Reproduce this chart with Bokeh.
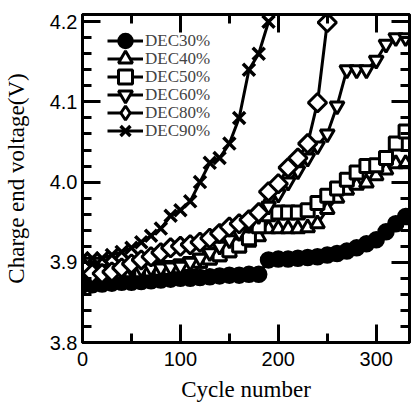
from bokeh.plotting import figure
from bokeh.models import (LinearAxis, Range1d, Legend, LegendItem, FixedTicker,
                          NumeralTickFormatter, CustomJSTickFormatter)
from bokeh.embed import file_html
from bokeh.resources import INLINE

# ---- data ----
cycles = [0, 10, 20, 30, 40, 50, 60, 70, 80, 90, 100, 110, 120, 130, 140, 150, 160,
          170, 180, 190, 200, 210, 220, 230, 240, 250, 260, 270, 280, 290, 300, 310, 320, 330]

dec30 = [3.872, 3.872, 3.873, 3.874, 3.875, 3.875, 3.876, 3.877, 3.878, 3.879, 3.880, 3.880,
         3.881, 3.882, 3.883, 3.884, 3.884, 3.885, 3.885, 3.903, 3.904, 3.904, 3.905, 3.906,
         3.907, 3.909, 3.911, 3.914, 3.918, 3.923, 3.928, 3.938, 3.948, 3.957]
dec40 = [3.885, 3.885, 3.886, 3.886, 3.887, 3.887, 3.888, 3.889, 3.890, 3.891, 3.893, 3.896,
         3.899, 3.903, 3.907, 3.912, 3.918, 3.925, 3.932, 3.942, 3.942, 3.942, 3.942, 3.943,
         3.948, 3.966, 3.980, 3.990, 3.996, 3.999, 4.008, 4.015, 4.023, 4.023]
dec50 = [3.888, 3.888, 3.888, 3.889, 3.889, 3.890, 3.890, 3.891, 3.892, 3.893, 3.895, 3.898,
         3.902, 3.906, 3.910, 3.915, 3.921, 3.930, 3.945, 3.960, 3.962, 3.962, 3.962, 3.965,
         3.974, 3.983, 3.992, 4.003, 4.012, 4.020, 4.021, 4.030, 4.048, 4.063]
dec60 = [3.890, 3.890, 3.890, 3.891, 3.891, 3.892, 3.892, 3.893, 3.893, 3.894, 3.895, 3.900,
         3.905, 3.912, 3.920, 3.928, 3.937, 3.947, 3.958, 3.970, 3.985, 4.000, 4.014, 4.030,
         4.045, 4.060, 4.095, 4.140, 4.140, 4.140, 4.152, 4.172, 4.180, 4.180]
dec80 = [3.893, 3.886, 3.886, 3.888, 3.893, 3.898, 3.903, 3.907, 3.912, 3.918, 3.920, 3.922,
         3.925, 3.930, 3.936, 3.944, 3.948, 3.953, 3.962, 3.988, 3.998, 4.018, 4.030, 4.048,
         4.099, 4.199]
dec90 = [3.905, 3.905, 3.905, 3.909, 3.913, 3.918, 3.925, 3.933, 3.942, 3.958, 3.965, 3.976,
         4.000, 4.024, 4.030, 4.048, 4.080, 4.140, 4.160, 4.200]

series_names = ["DEC30%", "DEC40%", "DEC50%", "DEC60%", "DEC80%", "DEC90%"]
series_values = [dec30, dec40, dec50, dec60, dec80, dec90]

x_major = [0, 100, 200, 300]
x_minor = [50, 150, 250]
y_major = [3.8, 3.9, 4.0, 4.1, 4.2]
y_minor = [3.82, 3.84, 3.86, 3.88, 3.92, 3.94, 3.96, 3.98, 4.02, 4.04, 4.06, 4.08,
           4.12, 4.14, 4.16, 4.18]

# ---- styles ----
# legend_marker: marker used for the legend swatch (legend swatches ignore angle)
marker_styles = [
    dict(marker="circle", size=15, fill_color="black", angle=0, lw=2.5, legend_marker=None),
    dict(marker="triangle", size=14, fill_color="white", angle=0, lw=3, legend_marker=None),
    dict(marker="square", size=13, fill_color="white", angle=0, lw=3, legend_marker=None),
    dict(marker="inverted_triangle", size=14, fill_color="white", angle=0, lw=3, legend_marker=None),
    dict(marker="square", size=13, fill_color="white", angle=0.7853981634, lw=3, legend_marker="diamond"),
    dict(marker="x", size=17, fill_color="white", angle=0, lw=3.5, legend_marker=None),
]

SERIF = "Liberation Serif"
SANS = "Liberation Sans"

p = figure(width=412, height=406, output_backend="svg", toolbar_location=None,
           x_range=Range1d(0, 334), y_range=Range1d(3.8, 4.209),
           min_border_left=82, min_border_right=3, min_border_top=14, min_border_bottom=64)
p.xgrid.visible = False
p.ygrid.visible = False
p.outline_line_color = "black"
p.outline_line_width = 3
p.background_fill_color = "white"
p.border_fill_color = "white"

bottom = p.below[0]
left = p.left[0]

renderer_pairs = []
for name, vals, st in zip(series_names, series_values, marker_styles):
    xs = cycles[:len(vals)]
    lr = p.line(xs, vals, line_color="black", line_width=3)
    legend_r = None
    if st["legend_marker"]:
        # smaller swatch-shaped marker, fully covered by the plotted marker
        legend_r = p.scatter(xs, vals, marker=st["legend_marker"], size=14,
                             fill_color=st["fill_color"], line_color="black", line_width=3)
    sr = p.scatter(xs, vals, marker=st["marker"], size=st["size"], angle=st["angle"],
                   fill_color=st["fill_color"], line_color="black", line_width=st["lw"])
    renderer_pairs.append((name, lr, legend_r if legend_r is not None else sr))

# mirrored axes (ticks only)
top = LinearAxis()
right = LinearAxis()
p.add_layout(top, "above")
p.add_layout(right, "right")

for ax in [bottom, top]:
    ax.ticker = FixedTicker(ticks=x_major, minor_ticks=x_minor)
for ax in [left, right]:
    ax.ticker = FixedTicker(ticks=y_major, minor_ticks=y_minor)
    ax.formatter = NumeralTickFormatter(format="0.0")

for ax in [bottom, left, top, right]:
    ax.axis_line_width = 3
    ax.axis_line_color = "black"
    ax.major_tick_line_width = 3
    ax.minor_tick_line_width = 3
    ax.major_tick_in = 18
    ax.major_tick_out = 0
    ax.minor_tick_in = 9
    ax.minor_tick_out = 0
    ax.major_label_text_font = SANS
    ax.major_label_text_font_size = "20px"
    ax.major_label_text_color = "black"

for ax in [top, right]:
    ax.formatter = CustomJSTickFormatter(code="return ''")
    ax.major_label_standoff = 0

bottom.axis_label = "Cycle number"
left.axis_label = "Charge end voltage(V)"
for ax in [bottom, left]:
    ax.axis_label_text_font = SERIF
    ax.axis_label_text_font_size = "23px"
    ax.axis_label_text_font_style = "normal"
    ax.axis_label_text_color = "black"
bottom.major_label_standoff = 9
left.major_label_standoff = 5
bottom.axis_label_standoff = 8
left.axis_label_standoff = 18

# legend: one single-item legend per row so the markers keep their size
row_step = 18
first_row_offset = 284
for i, (name, lr, sr) in enumerate(renderer_pairs):
    lg = Legend(items=[LegendItem(label=name, renderers=[lr, sr])],
                location=(25, first_row_offset - i * row_step),
                glyph_width=36, glyph_height=35, spacing=0, padding=0, margin=0,
                label_standoff=2, label_text_font=SERIF, label_text_font_size="17px",
                border_line_color=None, background_fill_alpha=0)
    p.add_layout(lg, "center")

open("out.html", "w").write(file_html(p, INLINE))
